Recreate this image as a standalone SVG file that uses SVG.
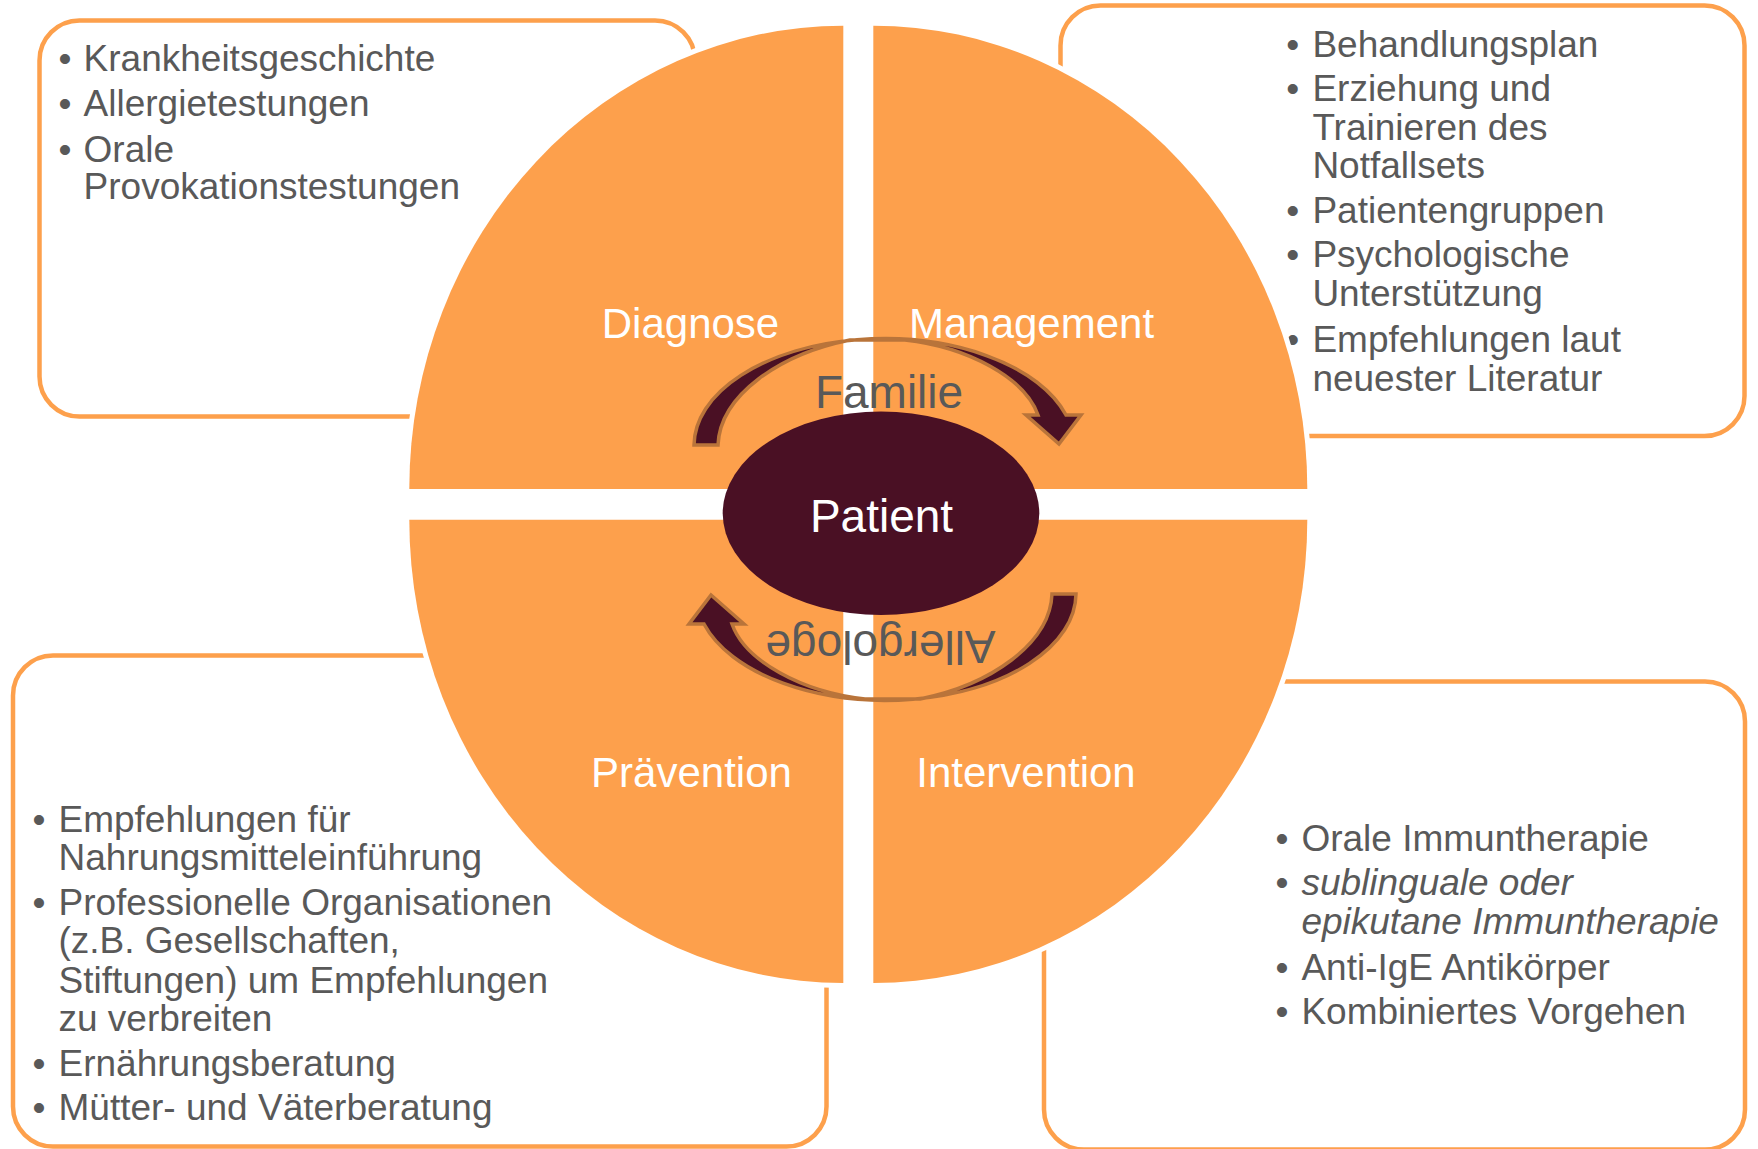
<svg xmlns="http://www.w3.org/2000/svg" width="1758" height="1149" viewBox="0 0 1758 1149">
  <style>
    .box { fill: #FFFFFF; stroke: #FDA04C; stroke-width: 4.5; }
    .quad { fill: #FDA04C; stroke: #FFFFFF; stroke-width: 10; paint-order: stroke; }
    .arrow { fill: #4A1024; stroke: #B9743A; stroke-width: 3.5; stroke-linejoin: miter; }
    .item { font-family: "Liberation Sans", Arial, sans-serif; font-size: 37px; fill: #595959; }
    .label { font-family: "Liberation Sans", Arial, sans-serif; font-size: 42px; fill: #FFFFFF; text-anchor: middle; }
    .ring { font-family: "Liberation Sans", Arial, sans-serif; font-size: 46px; fill: #595959; text-anchor: middle; }
    .center { font-family: "Liberation Sans", Arial, sans-serif; font-size: 46px; fill: #FFFFFF; text-anchor: middle; }
  </style>

  <!-- detail boxes behind the circle -->
  <g id="box-diagnose">
    <rect class="box" x="39.5" y="20.5" width="655.5" height="396" rx="40" ry="40"/>
    <text class="item">
      <tspan x="58.5" y="70.7">•</tspan><tspan x="83.6" y="70.7">Krankheitsgeschichte</tspan>
      <tspan x="58.5" y="116">•</tspan><tspan x="83.6" y="116">Allergietestungen</tspan>
      <tspan x="58.5" y="161.7">•</tspan><tspan x="83.6" y="161.7">Orale</tspan>
      <tspan x="83.6" y="199.3">Provokationstestungen</tspan>
    </text>
  </g>

  <g id="box-management">
    <rect class="box" x="1060.5" y="5.5" width="684" height="430.5" rx="40" ry="40"/>
    <text class="item">
      <tspan x="1286.2" y="56.7">•</tspan><tspan x="1312.4" y="56.7">Behandlungsplan</tspan>
      <tspan x="1286.2" y="100.7">•</tspan><tspan x="1312.4" y="100.7">Erziehung und</tspan>
      <tspan x="1312.4" y="140">Trainieren des</tspan>
      <tspan x="1312.4" y="178.3">Notfallsets</tspan>
      <tspan x="1286.2" y="222.7">•</tspan><tspan x="1312.4" y="222.7">Patientengruppen</tspan>
      <tspan x="1286.2" y="266.7">•</tspan><tspan x="1312.4" y="266.7">Psychologische</tspan>
      <tspan x="1312.4" y="306">Unterstützung</tspan>
      <tspan x="1286.2" y="351.7">•</tspan><tspan x="1312.4" y="351.7">Empfehlungen laut</tspan>
      <tspan x="1312.4" y="390.7">neuester Literatur</tspan>
    </text>
  </g>

  <g id="box-praevention">
    <rect class="box" x="13" y="655.5" width="813.5" height="491" rx="40" ry="40"/>
    <text class="item">
      <tspan x="32.5" y="831.7">•</tspan><tspan x="58.5" y="831.7">Empfehlungen für</tspan>
      <tspan x="58.5" y="870">Nahrungsmitteleinführung</tspan>
      <tspan x="32.5" y="915">•</tspan><tspan x="58.5" y="915">Professionelle Organisationen</tspan>
      <tspan x="58.5" y="953.3">(z.B. Gesellschaften,</tspan>
      <tspan x="58.5" y="992.7">Stiftungen) um Empfehlungen</tspan>
      <tspan x="58.5" y="1030.7">zu verbreiten</tspan>
      <tspan x="32.5" y="1076">•</tspan><tspan x="58.5" y="1076">Ernährungsberatung</tspan>
      <tspan x="32.5" y="1120">•</tspan><tspan x="58.5" y="1120">Mütter- und Väterberatung</tspan>
    </text>
  </g>

  <g id="box-intervention">
    <rect class="box" x="1044" y="681.5" width="701" height="468" rx="40" ry="40"/>
    <text class="item">
      <tspan x="1275.5" y="850.7">•</tspan><tspan x="1301.4" y="850.7">Orale Immuntherapie</tspan>
      <tspan x="1275.5" y="895">•</tspan><tspan x="1301.4" y="895" font-style="italic">sublinguale oder</tspan>
      <tspan x="1301.4" y="934" font-style="italic">epikutane Immuntherapie</tspan>
      <tspan x="1275.5" y="980">•</tspan><tspan x="1301.4" y="980">Anti-IgE Antikörper</tspan>
      <tspan x="1275.5" y="1024.3">•</tspan><tspan x="1301.4" y="1024.3">Kombiniertes Vorgehen</tspan>
    </text>
  </g>

  <!-- four quarter segments of the circle -->
  <g id="quadrant-diagnose">
    <path class="quad" d="M843.3,489 L409.3,489 A434,463.3 0 0 1 843.3,25.7 Z"/>
    <text class="label" x="690.5" y="338.3">Diagnose</text>
  </g>
  <g id="quadrant-management">
    <path class="quad" d="M873.3,489 L873.3,25.7 A434,463.3 0 0 1 1307.3,489 Z"/>
    <text class="label" x="1031.5" y="338.3">Management</text>
  </g>
  <g id="quadrant-praevention">
    <path class="quad" d="M843.3,519.7 L843.3,983 A434,463.3 0 0 1 409.3,519.7 Z"/>
    <text class="label" x="691.5" y="786.7">Prävention</text>
  </g>
  <g id="quadrant-intervention">
    <path class="quad" d="M873.3,519.7 L1307.3,519.7 A434,463.3 0 0 1 873.3,983 Z"/>
    <text class="label" x="1026" y="786.7">Intervention</text>
  </g>

  <!-- centre -->
  <g id="patient">
    <ellipse cx="881" cy="513.3" rx="158.3" ry="101.7" fill="#4A1024"/>
    <text class="center" x="881.5" y="531.7">Patient</text>
  </g>

  <!-- curved cycle arrows around the centre -->
  <g id="connectors">
    <g id="arrow-familie">
      <path class="arrow" d="M694,445 A190,107 0 0 1 1066,415 L1081,415 L1059,444 L1026,415 L1038,415 C1025,378 968,347 905,340 L850,340 C780,354 720,395 718,445 Z"/>
      <text class="ring" x="889" y="408.3">Familie</text>
    </g>
    <g id="arrow-allergologe" transform="rotate(180 885 519.5)">
      <path class="arrow" d="M694,445 A190,107 0 0 1 1066,415 L1081,415 L1059,444 L1026,415 L1038,415 C1025,378 968,347 905,340 L850,340 C780,354 720,395 718,445 Z"/>
      <text class="ring" x="889.5" y="408.3">Allergologe</text>
    </g>
  </g>
</svg>
